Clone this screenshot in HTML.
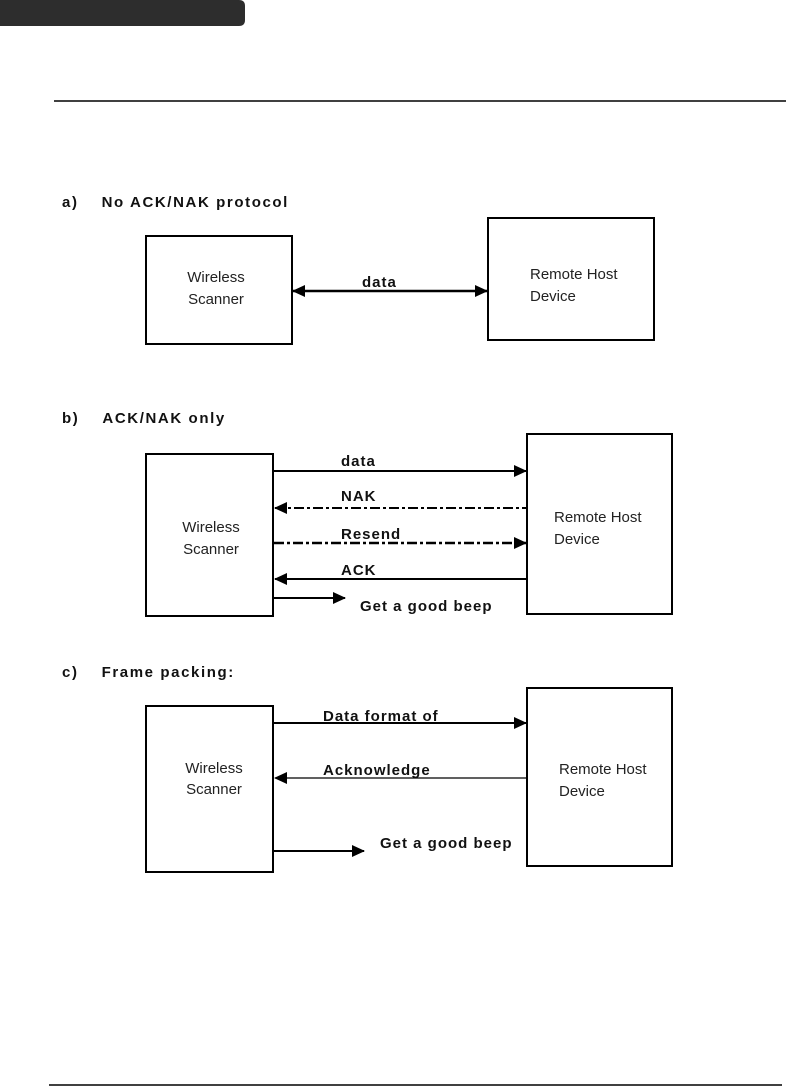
<!DOCTYPE html>
<html><head><meta charset="utf-8"><style>
html,body{margin:0;padding:0;background:#fff;}
svg{display:block}
.b{font-family:"Liberation Sans",sans-serif;font-weight:bold;font-size:15px;fill:#111;letter-spacing:1px}
.h{letter-spacing:1.6px}
.n{font-family:"Liberation Sans",sans-serif;font-size:15px;fill:#222}
</style></head><body>
<svg width="795" height="1087" viewBox="0 0 795 1087" xmlns="http://www.w3.org/2000/svg">
<defs>
<marker id="ah" markerWidth="13" markerHeight="12" refX="12" refY="6" orient="auto" markerUnits="userSpaceOnUse">
<path d="M0,0 L13,6 L0,12 z" fill="#000"/></marker>
<marker id="as" markerWidth="13" markerHeight="12" refX="1" refY="6" orient="auto" markerUnits="userSpaceOnUse">
<path d="M13,0 L0,6 L13,12 z" fill="#000"/></marker>
</defs>
<path d="M0,0 H239 Q245,0 245,6 V20 Q245,26 239,26 H0 z" fill="#2d2d2d"/>
<line x1="54" y1="101" x2="786" y2="101" stroke="#000" stroke-width="1.5"/>
<line x1="49" y1="1085" x2="782" y2="1085" stroke="#000" stroke-width="1.5"/>

<!-- a -->
<text class="b h" x="62" y="207">a)&#160;&#160;&#160;&#160;No ACK/NAK protocol</text>
<rect x="146" y="236" width="146" height="108" fill="none" stroke="#000" stroke-width="2"/>
<rect x="488" y="218" width="166" height="122" fill="none" stroke="#000" stroke-width="2"/>
<text class="n" x="216" y="282" text-anchor="middle">Wireless</text>
<text class="n" x="216" y="304" text-anchor="middle">Scanner</text>
<text class="n" x="530" y="279">Remote Host</text>
<text class="n" x="530" y="301">Device</text>
<line x1="293" y1="291" x2="487" y2="291" stroke="#000" stroke-width="2.5" marker-start="url(#as)" marker-end="url(#ah)"/>
<text class="b" x="362" y="287">data</text>

<!-- b -->
<text class="b h" x="62" y="423">b)&#160;&#160;&#160;&#160;ACK/NAK only</text>
<rect x="146" y="454" width="127" height="162" fill="none" stroke="#000" stroke-width="2"/>
<rect x="527" y="434" width="145" height="180" fill="none" stroke="#000" stroke-width="2"/>
<text class="n" x="211" y="532" text-anchor="middle">Wireless</text>
<text class="n" x="211" y="554" text-anchor="middle">Scanner</text>
<text class="n" x="554" y="522">Remote Host</text>
<text class="n" x="554" y="544">Device</text>
<line x1="274" y1="471" x2="526" y2="471" stroke="#000" stroke-width="2" marker-end="url(#ah)"/>
<text class="b" x="341" y="466">data</text>
<line x1="275" y1="508" x2="526" y2="508" stroke="#000" stroke-width="2" stroke-dasharray="10,3,3,3" marker-start="url(#as)"/>
<text class="b" x="341" y="501">NAK</text>
<line x1="274" y1="543" x2="526" y2="543" stroke="#000" stroke-width="2.5" stroke-dasharray="10,3,3,3" marker-end="url(#ah)"/>
<text class="b" x="341" y="539">Resend</text>
<line x1="275" y1="579" x2="528" y2="579" stroke="#000" stroke-width="2" marker-start="url(#as)"/>
<text class="b" x="341" y="575">ACK</text>
<line x1="274" y1="598" x2="345" y2="598" stroke="#000" stroke-width="2" marker-end="url(#ah)"/>
<text class="b" x="360" y="611">Get a good beep</text>

<!-- c -->
<text class="b h" x="62" y="677">c)&#160;&#160;&#160;&#160;Frame packing:</text>
<rect x="146" y="706" width="127" height="166" fill="none" stroke="#000" stroke-width="2"/>
<rect x="527" y="688" width="145" height="178" fill="none" stroke="#000" stroke-width="2"/>
<text class="n" x="214" y="773" text-anchor="middle">Wireless</text>
<text class="n" x="214" y="794" text-anchor="middle">Scanner</text>
<text class="n" x="559" y="774">Remote Host</text>
<text class="n" x="559" y="796">Device</text>
<line x1="274" y1="723" x2="526" y2="723" stroke="#000" stroke-width="2" marker-end="url(#ah)"/>
<text class="b" x="323" y="721">Data format of</text>
<line x1="275" y1="778" x2="528" y2="778" stroke="#000" stroke-width="1.2" marker-start="url(#as)"/>
<text class="b" x="323" y="775">Acknowledge</text>
<line x1="274" y1="851" x2="364" y2="851" stroke="#000" stroke-width="2" marker-end="url(#ah)"/>
<text class="b" x="380" y="848">Get a good beep</text>
</svg>
</body></html>
